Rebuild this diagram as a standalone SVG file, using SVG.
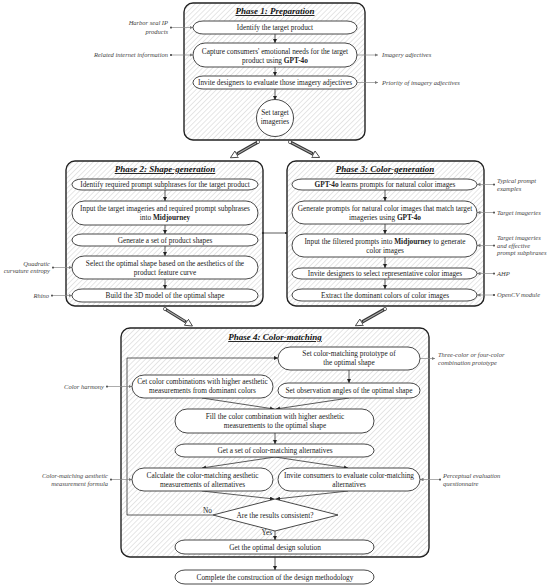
<svg xmlns="http://www.w3.org/2000/svg" width="550" height="587" viewBox="0 0 550 587">
<defs>
<style>
.ph{fill:url(#hatch);stroke:#222;stroke-width:1.4}
.nd{fill:#fff;stroke:#333;stroke-width:0.9}
.t{font-family:"Liberation Serif","Times New Roman",serif;font-size:7.3px;fill:#222;text-anchor:middle}
.ti{font-family:"Liberation Serif","Times New Roman",serif;font-size:9px;font-weight:bold;font-style:italic;text-decoration:underline;fill:#111;text-anchor:middle}
.lb{font-family:"Liberation Serif","Times New Roman",serif;font-size:6.5px;font-style:italic;fill:#444}
.r{text-anchor:end}
.ln{fill:none;stroke:#333;stroke-width:0.8;marker-end:url(#arr)}
.ex{fill:none;stroke:#888;stroke-width:0.7;marker-end:url(#garr)}
.exi{fill:none;stroke:#888;stroke-width:0.7;marker-start:url(#gdot);marker-end:url(#garr)}
.big{fill:none;stroke:#333;stroke-width:3.2;marker-end:url(#hollow)}
.bigin{fill:none;stroke:#aaa;stroke-width:1.1}
</style>
<pattern id="hatch" patternUnits="userSpaceOnUse" width="3.6" height="3.6" patternTransform="rotate(45)">
<line x1="0" y1="0" x2="0" y2="3.6" stroke="#aaaaaa" stroke-width="0.6"/>
</pattern>
<marker id="arr" viewBox="0 0 6 6" markerUnits="userSpaceOnUse" markerWidth="4" markerHeight="4" refX="6" refY="3" orient="auto"><path d="M0,0 L6,3 L0,6 z" fill="#222"/></marker>
<marker id="garr" viewBox="0 0 6 6" markerUnits="userSpaceOnUse" markerWidth="3.5" markerHeight="3.5" refX="6" refY="3" orient="auto"><path d="M0,0 L6,3 L0,6 z" fill="#777"/></marker>
<marker id="gdot" viewBox="0 0 4 4" markerUnits="userSpaceOnUse" markerWidth="2.2" markerHeight="2.2" refX="2" refY="2"><circle cx="2" cy="2" r="2" fill="#555"/></marker>
<marker id="dot" viewBox="0 0 4 4" markerUnits="userSpaceOnUse" markerWidth="2.4" markerHeight="2.4" refX="2" refY="2"><circle cx="2" cy="2" r="2" fill="#333"/></marker>
<marker id="hollow" viewBox="0 0 10 10" markerUnits="userSpaceOnUse" markerWidth="8" markerHeight="8" refX="0" refY="5" orient="auto"><path d="M0.5,0.5 L9.5,5 L0.5,9.5 z" fill="#fff" stroke="#333" stroke-width="1"/></marker>
</defs>
<rect width="550" height="587" fill="#fff"/>

<!-- Phase containers -->
<g id="phase1">
<rect class="ph" x="184" y="3" width="181" height="137" rx="9"/>
<text class="ti" x="275" y="14">Phase 1: Preparation</text>
</g>
<g id="phase2">
<rect class="ph" x="66" y="161" width="197" height="145" rx="9"/>
<text class="ti" x="165" y="172">Phase 2: Shape-generation</text>
</g>
<g id="phase3">
<rect class="ph" x="287" y="161" width="197" height="145" rx="9"/>
<text class="ti" x="385" y="172">Phase 3: Color-generation</text>
</g>
<g id="phase4">
<rect class="ph" x="121" y="328" width="308" height="229" rx="9"/>
<text class="ti" x="275" y="340">Phase 4: Color-matching</text>
</g>

<!-- Connectors -->
<g id="connectors">
<path class="ln" d="M275,34 V43"/>
<path class="ln" d="M275,67 V76"/>
<path class="ln" d="M275,89 V100"/>
<path class="ln" d="M165,190 V201"/>
<path class="ln" d="M165,225 V234"/>
<path class="ln" d="M165,246 V256"/>
<path class="ln" d="M165,279 V289"/>
<path class="ln" d="M385,190 V201"/>
<path class="ln" d="M385,224 V234"/>
<path class="ln" d="M385,257 V268"/>
<path class="ln" d="M385,279 V289"/>
<path d="M263,233 H286" fill="none" stroke="#333" stroke-width="0.8" marker-start="url(#dot)" marker-end="url(#dot)"/>
<path class="ln" d="M349,370 V383"/>
<path class="ln" d="M202,398 L274,409"/>
<path class="ln" d="M349,398 L276,409"/>
<path class="ln" d="M275,433 V444"/>
<path class="ln" d="M275,457 L202,468"/>
<path class="ln" d="M275,457 L348,468"/>
<path class="ln" d="M202,491 L274,499"/>
<path class="ln" d="M348,491 L276,499"/>
<path class="ln" d="M275,531 V540"/>
<path class="ln" d="M213,515 H127 V358 H278"/>
<path class="ln" d="M275,557 V570"/>
<!-- big phase arrows -->
<path class="big" d="M258,142 L237,154"/>
<path class="bigin" d="M256,143.2 L238,153.4"/>
<circle cx="258" cy="142" r="1.6" fill="#fff" stroke="#333" stroke-width="0.7"/>
<path class="big" d="M290,142 L313,154"/>
<path class="bigin" d="M292,143 L312,153.4"/>
<circle cx="290" cy="142" r="1.6" fill="#fff" stroke="#333" stroke-width="0.7"/>
<path class="big" d="M165,309 L186,322"/>
<path class="bigin" d="M167,310.2 L185,321.3"/>
<circle cx="165" cy="309" r="1.6" fill="#fff" stroke="#333" stroke-width="0.7"/>
<path class="big" d="M385,309 L362,322"/>
<path class="bigin" d="M383,310.2 L363,321.4"/>
<circle cx="385" cy="309" r="1.6" fill="#fff" stroke="#333" stroke-width="0.7"/>
<!-- external inputs / outputs -->
<path class="exi" d="M171,27.5 H193"/>
<path class="exi" d="M171,55 H193"/>
<path class="ex" d="M357,55 H378"/>
<path class="ex" d="M357,82.5 H378"/>
<path class="exi" d="M53,267.5 H72"/>
<path class="exi" d="M52,295.5 H72"/>
<path class="exi" d="M494,184.5 H477"/>
<path class="exi" d="M494,212.5 H477"/>
<path class="exi" d="M494,245.5 H477"/>
<path class="exi" d="M494,273.5 H477"/>
<path class="exi" d="M494,295 H477"/>
<path class="exi" d="M107,386.5 H132"/>
<path class="exi" d="M111,479.5 H132"/>
<path class="ex" d="M420,358.5 H435"/>
<path class="exi" d="M440,479.5 H420"/>
<text class="t r" x="212" y="512.5">No</text>
<text class="t r" x="272" y="535">Yes</text>
</g>

<!-- Phase 1 nodes -->
<g id="p1n1"><rect class="nd" x="193" y="21" width="164" height="13" rx="10" ry="6.5"/><text class="t" x="275" y="30">Identify the target product</text></g>
<g id="p1n2"><rect class="nd" x="193" y="43" width="164" height="24" rx="12" ry="12"/><text class="t" x="275" y="53.5">Capture consumers' emotional needs for the target</text><text class="t" x="275" y="62.5">product using <tspan font-weight="bold">GPT-4o</tspan></text></g>
<g id="p1n3"><rect class="nd" x="193" y="76" width="164" height="13" rx="10" ry="6.5"/><text class="t" x="275" y="85">Invite designers to evaluate those imagery adjectives</text></g>
<g id="p1n4"><circle class="nd" cx="275" cy="118" r="18.5"/><text class="t" x="275" y="115">Set target</text><text class="t" x="275" y="124">imageries</text></g>

<!-- Phase 2 nodes -->
<g id="p2n1"><rect class="nd" x="72" y="179" width="186" height="11" rx="10" ry="5.5"/><text class="t" x="165" y="187">Identify required prompt subphrases for the target product</text></g>
<g id="p2n2"><rect class="nd" x="72" y="201" width="186" height="24" rx="12" ry="12"/><text class="t" x="165" y="211">Input the target imageries and required prompt subphrases</text><text class="t" x="165" y="220">into <tspan font-weight="bold">Midjourney</tspan></text></g>
<g id="p2n3"><rect class="nd" x="72" y="234" width="186" height="12" rx="10" ry="6"/><text class="t" x="165" y="242.5">Generate a set of product shapes</text></g>
<g id="p2n4"><rect class="nd" x="72" y="256" width="186" height="23" rx="12" ry="11.5"/><text class="t" x="165" y="266">Select the optimal shape based on the aesthetics of the</text><text class="t" x="165" y="275">product feature curve</text></g>
<g id="p2n5"><rect class="nd" x="72" y="289" width="186" height="13" rx="10" ry="6.5"/><text class="t" x="165" y="298">Build the 3D model of the optimal shape</text></g>

<!-- Phase 3 nodes -->
<g id="p3n1"><rect class="nd" x="292" y="179" width="185" height="11" rx="10" ry="5.5"/><text class="t" x="385" y="187"><tspan font-weight="bold">GPT-4o</tspan> learns prompts for natural color images</text></g>
<g id="p3n2"><rect class="nd" x="292" y="201" width="185" height="23" rx="12" ry="11.5"/><text class="t" x="385" y="210.5">Generate prompts for natural color images that match target</text><text class="t" x="385" y="219.5">imageries using <tspan font-weight="bold">GPT-4o</tspan></text></g>
<g id="p3n3"><rect class="nd" x="292" y="234" width="185" height="23" rx="12" ry="11.5"/><text class="t" x="385" y="243.5">Input the filtered prompts into <tspan font-weight="bold">Midjourney</tspan> to generate</text><text class="t" x="385" y="252.5">color images</text></g>
<g id="p3n4"><rect class="nd" x="292" y="268" width="185" height="11" rx="10" ry="5.5"/><text class="t" x="385" y="276">Invite designers to select representative color images</text></g>
<g id="p3n5"><rect class="nd" x="292" y="289" width="185" height="12" rx="10" ry="6"/><text class="t" x="385" y="297.5">Extract the dominant colors of color images</text></g>

<!-- Phase 4 nodes -->
<g id="p4n1"><rect class="nd" x="278" y="347" width="142" height="23" rx="12" ry="11.5"/><text class="t" x="349" y="356">Set color-matching prototype of</text><text class="t" x="349" y="365">the optimal shape</text></g>
<g id="p4n2"><rect class="nd" x="278" y="383" width="142" height="15" rx="10" ry="7.5"/><text class="t" x="349" y="393">Set observation angles of the optimal shape</text></g>
<g id="p4n3"><rect class="nd" x="132" y="375" width="141" height="23" rx="12" ry="11.5"/><text class="t" x="202.5" y="384">Cet color combinations with higher aesthetic</text><text class="t" x="202.5" y="393">measurements from dominant colors</text></g>
<g id="p4n4"><rect class="nd" x="175" y="409" width="199" height="24" rx="12" ry="12"/><text class="t" x="275" y="419">Fill the color combination with higher aesthetic</text><text class="t" x="275" y="428">measurements to the optimal shape</text></g>
<g id="p4n5"><rect class="nd" x="175" y="444" width="199" height="13" rx="10" ry="6.5"/><text class="t" x="275" y="453">Get a set of color-matching alternatives</text></g>
<g id="p4n6"><rect class="nd" x="132" y="468" width="141" height="23" rx="12" ry="11.5"/><text class="t" x="202.5" y="477.5">Calculate the color-matching aesthetic</text><text class="t" x="202.5" y="486.5">measurements of alternatives</text></g>
<g id="p4n7"><rect class="nd" x="278" y="468" width="142" height="23" rx="12" ry="11.5"/><text class="t" x="349" y="477.5">Invite consumers to evaluate color-matching</text><text class="t" x="349" y="486.5">alternatives</text></g>
<g id="p4n8"><path class="nd" d="M213,515 L275,499 L338,515 L275,531 Z"/><text class="t" x="275" y="518">Are the results consistent?</text></g>
<g id="p4n9"><rect class="nd" x="175" y="540" width="199" height="14" rx="10" ry="7"/><text class="t" x="275" y="549.5">Get the optimal design solution</text></g>
<g id="final"><rect class="nd" x="175" y="570" width="199" height="14" rx="10" ry="7"/><text class="t" x="275" y="579.5">Complete the construction of the design methodology</text></g>

<!-- External labels -->
<g id="labels">
<text class="lb r" x="168" y="25.3">Harbor seal IP</text>
<text class="lb r" x="168" y="34.3">products</text>
<text class="lb r" x="168" y="57.3">Related internet information</text>
<text class="lb" x="382" y="57.3">Imagery adjectives</text>
<text class="lb" x="382" y="84.8">Priority of imagery adjectives</text>
<text class="lb r" x="50" y="266.3">Quadratic</text>
<text class="lb r" x="50" y="273.3">curvature entropy</text>
<text class="lb r" x="49" y="297.8">Rhino</text>
<text class="lb" x="497" y="183">Typical prompt</text>
<text class="lb" x="497" y="190.5">examples</text>
<text class="lb" x="497" y="214.8">Target imageries</text>
<text class="lb" x="497" y="240.3">Target imageries</text>
<text class="lb" x="497" y="247.8">and effective</text>
<text class="lb" x="497" y="255.3">prompt subphrases</text>
<text class="lb" x="497" y="275.8">AHP</text>
<text class="lb" x="497" y="297.3">OpenCV module</text>
<text class="lb r" x="104" y="388.8">Color harmony</text>
<text class="lb r" x="108" y="477.8">Color-matching aesthetic</text>
<text class="lb r" x="108" y="485.8">measurement formula</text>
<text class="lb" x="438" y="356.8">Three-color or four-color</text>
<text class="lb" x="438" y="364.8">combination prototype</text>
<text class="lb" x="443" y="477.8">Perceptual evaluation</text>
<text class="lb" x="443" y="485.8">questionnaire</text>
</g>
</svg>
